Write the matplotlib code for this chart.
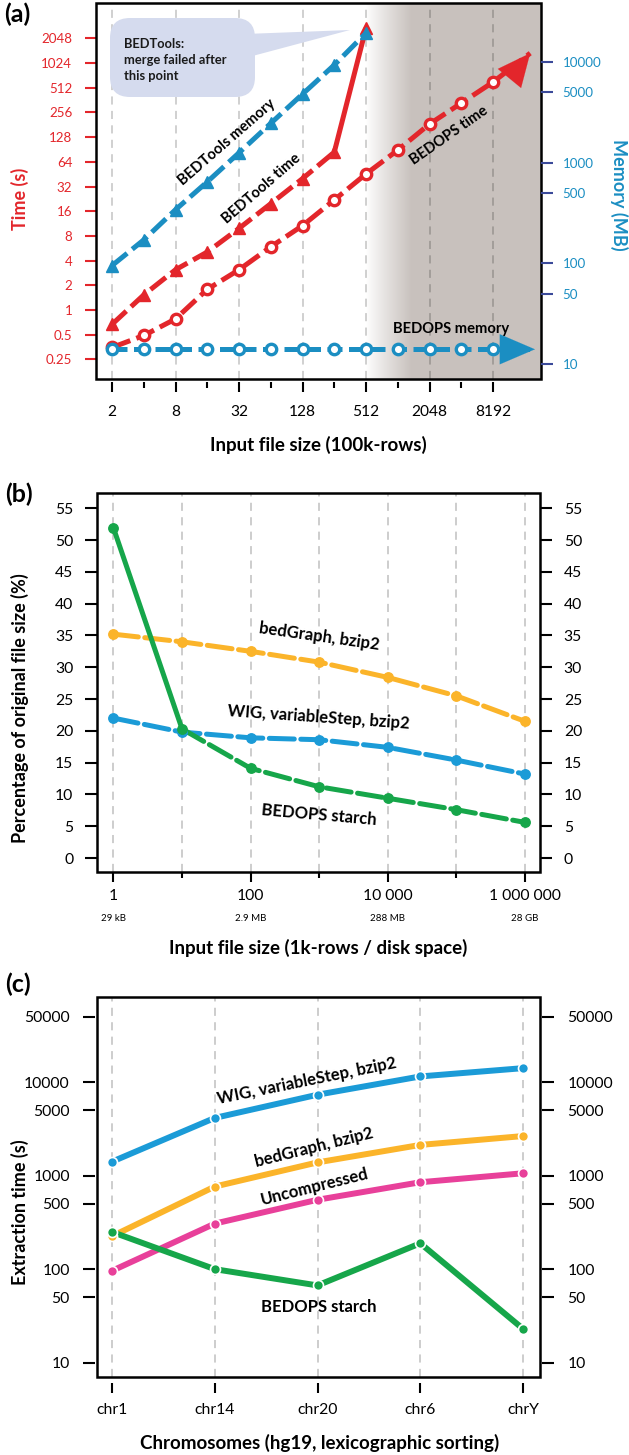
import numpy as np
import matplotlib
matplotlib.use('Agg')
import matplotlib.pyplot as plt
from matplotlib.patches import Rectangle, FancyBboxPatch, Polygon
from matplotlib.transforms import IdentityTransform

plt.rcParams['font.family'] = ['Lato', 'DejaVu Sans']

# ---------------- data ----------------
# panel (a)
a_x = [2, 4, 8, 16, 32, 64, 128, 256, 512, 1024, 2048, 4096, 8192]
bedtools_x = [2, 4, 8, 16, 32, 64, 128, 256, 512]
bedtools_time = [0.67, 1.53, 3.1, 5.1, 9.9, 19.8, 40, 84, 2730]
bedtools_mem = [95, 171, 341, 645, 1254, 2460, 4800, 9340, 19400]
bedops_time = [0.35, 0.49, 0.78, 1.79, 3.1, 5.9, 10.7, 22, 45.6, 89, 185, 333, 600]
bedops_mem = [14, 14, 14, 14, 14, 14, 14, 14, 14, 14, 14, 14, 14]
bedops_time_tip = (2 ** 14.17, 1350)
bedops_mem_tip = (2 ** 14.32, 14)
a_xticks = [2, 8, 32, 128, 512, 2048, 8192]
a_xminor = [4, 16, 64, 256, 1024, 4096]
time_ticks = [0.25, 0.5, 1, 2, 4, 8, 16, 32, 64, 128, 256, 512, 1024, 2048]
time_labels = ['0.25', '0.5', '1', '2', '4', '8', '16', '32', '64', '128', '256', '512', '1024', '2048']
mem_ticks = [10, 50, 100, 500, 1000, 5000, 10000]

# panel (b)
b_x = [1, 10, 100, 1000, 10000, 100000, 1000000]
b_bedgraph = [35.2, 34.0, 32.5, 30.8, 28.4, 25.5, 21.5]
b_wig = [22.0, 19.8, 18.9, 18.6, 17.4, 15.4, 13.2]
b_starch = [51.9, 20.3, 14.1, 11.2, 9.4, 7.6, 5.6]
b_xticks = [1, 100, 10000, 1000000]
b_xlabels = ['1', '100', '10 000', '1 000 000']
b_xsizes = ['29 kB', '2.9 MB', '288 MB', '28 GB']
b_yticks = [0, 5, 10, 15, 20, 25, 30, 35, 40, 45, 50, 55]

# panel (c)
chroms = ['chr1', 'chr14', 'chr20', 'chr6', 'chrY']
c_wig = [1410, 4140, 7330, 11500, 14100]
c_bedgraph = [225, 764, 1385, 2130, 2650]
c_uncomp = [96, 307, 552, 850, 1060]
c_starch = [250, 100, 67, 189, 23]
c_yticks = [10, 50, 100, 500, 1000, 5000, 10000, 50000]

# ---------------- style ----------------
RED = '#e3262b'
MBLUE = '#1b8ec2'
NAVY = '#3b4a9a'
ORANGE = '#fbb42a'
BLUE = '#1b9bd7'
GREEN = '#16a64a'
PINK = '#e8409a'
GRID = '#c9c9c9'
BOXC = '#d5dbee'
SHADE = np.array([200, 193, 189]) / 255.0

W, H = 629, 1455
fig = plt.figure(figsize=(W / 100, H / 100), dpi=100)

TITLE = 13
XTITLE = 13.5
ANN_A = 10.6
ANN_BC = 12
TICK = 11.3


def rect(l, t, r, b):
    return [l / W, 1 - b / H, (r - l) / W, (b - t) / H]


def P(x, y):
    return (x / W, 1 - y / H)


def box(ax):
    ax.add_patch(Rectangle((0, 0), 1, 1, transform=ax.transAxes, fill=False,
                           lw=1.8, ec='black', zorder=20, clip_on=False))
    for s in ax.spines.values():
        s.set_visible(False)


def vgrid(ax, xs, color=GRID, z=1):
    for x in xs:
        ax.axvline(x, color=color, lw=1.3, ls=(0, (4.5, 3.5)), zorder=z)


# ================= panel (a) =================
ax = fig.add_axes(rect(96, 3, 541, 379))
ax.set_xscale('log', base=2)
ax.set_yscale('log', base=2)
ax.set_xlim(2 ** 0.496, 2 ** 14.51)
ax.set_ylim(2 ** -2.79, 2 ** 12.43)

# shaded region with gradient
f0, f1 = (366 - 96) / 445, (412 - 96) / 445
grad = np.linspace(0, 1, 256) ** 0.9
img = np.ones((1, 256, 3)) * (1 - grad[None, :, None]) + SHADE[None, None, :] * grad[None, :, None]
ax.imshow(img, extent=[f0, f1, 0, 1], transform=ax.transAxes, aspect='auto', zorder=0,
          interpolation='bilinear')
ax.add_patch(Rectangle((f1, 0), 1 - f1, 1, transform=ax.transAxes, color=SHADE, zorder=0, lw=0))
for x in a_xticks:
    ax.axvline(x, color='black', alpha=0.2, lw=1.3, ls=(0, (4.5, 3.5)), zorder=1)

# time series
ax.plot(bedtools_x[:8], bedtools_time[:8], color=RED, lw=3.6, ls=(0, (3.9, 1.3)),
        dash_capstyle='butt', zorder=3)
ax.plot(bedtools_x[7:], bedtools_time[7:], color=RED, lw=3.6, solid_capstyle='butt', zorder=3)
ax.plot(bedtools_x, bedtools_time, ls='none', marker='^', ms=8.5, color=RED, zorder=4)
ax.plot(a_x, bedops_time, color=RED, lw=3.6, ls=(0, (3.9, 1.3)), dash_capstyle='butt', zorder=3)
ax.plot([a_x[-1], bedops_time_tip[0]], [bedops_time[-1], bedops_time_tip[1]], color=RED,
        lw=3.6, ls=(0, (3.0, 1.3)), zorder=3)
ax.annotate('', xy=bedops_time_tip, xytext=(a_x[-1] * 1.6, bedops_time[-1] * 1.32),
            arrowprops=dict(arrowstyle='-|>,head_length=1.3,head_width=0.6', color=RED,
                            lw=0.1, mutation_scale=18, shrinkA=0, shrinkB=0), zorder=5)
ax.plot(a_x, bedops_time, ls='none', marker='o', ms=7.5, mfc='white', mec=RED, mew=2.4, zorder=4)

ax.set_xticks(a_xticks)
ax.set_xticklabels([str(v) for v in a_xticks])
ax.set_xticks(a_xminor, minor=True)
ax.set_xticklabels([], minor=True)
ax.set_yticks(time_ticks)
ax.set_yticklabels(time_labels)
ax.yaxis.set_minor_locator(matplotlib.ticker.NullLocator())
ax.spines['bottom'].set_position(('outward', 2.5))
ax.tick_params(axis='x', which='major', length=7.5, width=1.5, labelsize=11.2, pad=9)
ax.tick_params(axis='x', which='minor', length=4, width=1.5)
ax.tick_params(axis='y', which='major', length=8, width=1.5, color=RED, labelcolor=RED,
               labelsize=9.6, pad=9)

axm = ax.twinx()
axm.set_yscale('log')
axm.set_ylim(10 ** 0.851, 10 ** 4.586)
axm.plot(bedtools_x, bedtools_mem, color=MBLUE, lw=3.6, ls=(0, (3.9, 1.3)), dash_capstyle='butt', zorder=3)
axm.plot(bedtools_x, bedtools_mem, ls='none', marker='^', ms=8.5, color=MBLUE, zorder=4)
axm.plot(a_x, bedops_mem, color=MBLUE, lw=3.6, ls=(0, (3.0, 1.3)), dash_capstyle='butt', zorder=3)
axm.plot([a_x[-1], bedops_mem_tip[0]], [bedops_mem[-1], bedops_mem_tip[1]], color=MBLUE,
         lw=3.6, ls=(0, (3.0, 1.3)), zorder=3)
axm.annotate('', xy=bedops_mem_tip, xytext=(a_x[-1] * 1.5, bedops_mem[-1]),
             arrowprops=dict(arrowstyle='-|>,head_length=1.4,head_width=0.6', color=MBLUE,
                             lw=0.1, mutation_scale=18, shrinkA=0, shrinkB=0), zorder=5)
axm.plot(a_x, bedops_mem, ls='none', marker='o', ms=7.5, mfc='white', mec=MBLUE, mew=2.4, zorder=4)
axm.set_yticks(mem_ticks)
axm.set_yticklabels([str(v) for v in mem_ticks])
axm.yaxis.set_minor_locator(matplotlib.ticker.NullLocator())
axm.tick_params(axis='y', length=8.6, width=1.5, color=NAVY, labelcolor=MBLUE, labelsize=9.6, pad=7)
for s in axm.spines.values():
    s.set_visible(False)
box(ax)

# callout (pixel coordinates, display origin bottom-left)
fig.add_artist(Polygon([(245, H - 34), (245, H - 58), (350, H - 30)], closed=True,
                       transform=IdentityTransform(), color=BOXC, lw=0, zorder=6))
fig.add_artist(FancyBboxPatch((110, H - 97), 145, 79, boxstyle='round,pad=0,rounding_size=20',
                              transform=IdentityTransform(), fc=BOXC, ec='none', zorder=6))
fig.text(*P(124, 60), 'BEDTools:\nmerge failed after\nthis point', fontsize=9.3, fontweight='bold',
         va='center', ha='left', linespacing=1.4, color='#1a1a1a', zorder=7)

fig.text(*P(227, 142), 'BEDTools memory', rotation=41, fontsize=ANN_A, fontweight='bold',
         ha='center', va='center')
fig.text(*P(262, 189), 'BEDTools time', rotation=41, fontsize=ANN_A, fontweight='bold',
         ha='center', va='center')
fig.text(*P(449, 136), 'BEDOPS time', rotation=35, fontsize=ANN_A, fontweight='bold',
         ha='center', va='center')
fig.text(*P(451, 329), 'BEDOPS memory', fontsize=ANN_A, fontweight='bold', ha='center', va='center')

fig.text(*P(17, 14), '(a)', fontsize=18, fontweight='bold', ha='center', va='center')
fig.text(*P(20, 199), 'Time (s)', rotation=90, fontsize=TITLE, fontweight='bold', color=RED,
         ha='center', va='center')
fig.text(*P(619, 195), 'Memory (MB)', rotation=270, fontsize=TITLE, fontweight='bold', color=MBLUE,
         ha='center', va='center')
fig.text(*P(318, 445), 'Input file size (100k-rows)', fontsize=XTITLE, fontweight='bold',
         ha='center', va='center')

# ================= panel (b) =================
bx = fig.add_axes(rect(97, 493, 540, 872))
bx.set_xscale('log')
bx.set_xlim(10 ** -0.24, 10 ** 6.22)
bx.set_ylim(-2.2, 57.4)
vgrid(bx, b_x)
bx.plot(b_x, b_bedgraph, color=ORANGE, lw=3.6, ls=(0, (5, 1.3)), dash_capstyle='round', zorder=3)
bx.plot(b_x, b_bedgraph, ls='none', marker='o', ms=6.8, color=ORANGE, zorder=4)
bx.plot(b_x, b_wig, color=BLUE, lw=3.6, ls=(0, (5, 1.3)), dash_capstyle='round', zorder=3)
bx.plot(b_x, b_wig, ls='none', marker='o', ms=6.8, color=BLUE, zorder=4)
bx.plot(b_x[:2], b_starch[:2], color=GREEN, lw=3.6, solid_capstyle='round', zorder=3)
bx.plot(b_x[1:], b_starch[1:], color=GREEN, lw=3.6, ls=(0, (5, 1.3)), dash_capstyle='round', zorder=3)
bx.plot(b_x, b_starch, ls='none', marker='o', ms=6.8, color=GREEN, zorder=4)
bx.set_xticks(b_xticks)
bx.set_xticklabels(b_xlabels)
bx.set_xticks([10, 1000, 100000], minor=True)
bx.set_xticklabels([], minor=True)
bx.set_yticks(b_yticks)
bx.tick_params(axis='x', which='major', length=7.5, width=1.5, labelsize=TICK, pad=5)
bx.tick_params(axis='x', which='minor', length=4, width=1.5)
bx.tick_params(axis='y', which='both', length=8.6, width=1.5, labelsize=TICK, pad=8.5,
               right=True, labelright=True)
for xv, s in zip(b_xticks, b_xsizes):
    bx.text(xv, -0.122, s, transform=bx.get_xaxis_transform(), fontsize=7, ha='center', va='center')
box(bx)
fig.text(*P(319, 637), 'bedGraph, bzip2', rotation=-8, fontsize=ANN_BC, fontweight='bold', ha='center', va='center')
fig.text(*P(319, 717), 'WIG, variableStep, bzip2', rotation=-4, fontsize=ANN_BC, fontweight='bold', ha='center', va='center')
fig.text(*P(319, 815), 'BEDOPS starch', rotation=-5, fontsize=ANN_BC, fontweight='bold', ha='center', va='center')
fig.text(*P(19, 494), '(b)', fontsize=18, fontweight='bold', ha='center', va='center')
fig.text(*P(20, 708), 'Percentage of original file size (%)', rotation=90, fontsize=TITLE,
         fontweight='bold', ha='center', va='center')
fig.text(*P(318, 948), 'Input file size (1k-rows / disk space)', fontsize=XTITLE, fontweight='bold',
         ha='center', va='center')

# ================= panel (c) =================
cx = fig.add_axes(rect(97, 997, 540, 1377))
cx.set_yscale('log')
cx.set_xlim(-0.146, 4.165)
cx.set_ylim(10 ** 0.847, 10 ** 4.91)
cxs = np.arange(len(chroms))
vgrid(cx, cxs)
for ys, col in [(c_wig, BLUE), (c_bedgraph, ORANGE), (c_uncomp, PINK), (c_starch, GREEN)]:
    cx.plot(cxs, ys, color=col, lw=4.3, solid_capstyle='round', zorder=3)
    cx.plot(cxs, ys, ls='none', marker='o', ms=7.2, color=col, mec='white', mew=1.2, zorder=4)
cx.set_xticks(cxs)
cx.set_xticklabels(chroms)
cx.set_yticks(c_yticks)
cx.set_yticklabels([str(v) for v in c_yticks])
cx.yaxis.set_minor_locator(matplotlib.ticker.NullLocator())
cx.spines['bottom'].set_position(('outward', 4))
cx.spines['left'].set_position(('outward', 1.5))
cx.spines['right'].set_position(('outward', 1.5))
cx.tick_params(axis='x', length=7, width=1.5, labelsize=TICK, pad=8)
cx.tick_params(axis='y', which='major', length=8.6, width=1.5, labelsize=TICK, pad=9.5,
               right=True, labelright=True)
box(cx)
fig.text(*P(307, 1081), 'WIG, variableStep, bzip2', rotation=11.5, fontsize=ANN_BC, fontweight='bold', ha='center', va='center')
fig.text(*P(314, 1148), 'bedGraph, bzip2', rotation=14, fontsize=ANN_BC, fontweight='bold', ha='center', va='center')
fig.text(*P(315, 1187), 'Uncompressed', rotation=14, fontsize=ANN_BC, fontweight='bold', ha='center', va='center')
fig.text(*P(319, 1307), 'BEDOPS starch', fontsize=ANN_BC, fontweight='bold', ha='center', va='center')
fig.text(*P(18, 984), '(c)', fontsize=18, fontweight='bold', ha='center', va='center')
fig.text(*P(20, 1212), 'Extraction time (s)', rotation=90, fontsize=TITLE, fontweight='bold',
         ha='center', va='center')
fig.text(*P(320, 1443), 'Chromosomes (hg19, lexicographic sorting)', fontsize=XTITLE, fontweight='bold',
         ha='center', va='center')

fig.savefig('out.png', dpi=100)
